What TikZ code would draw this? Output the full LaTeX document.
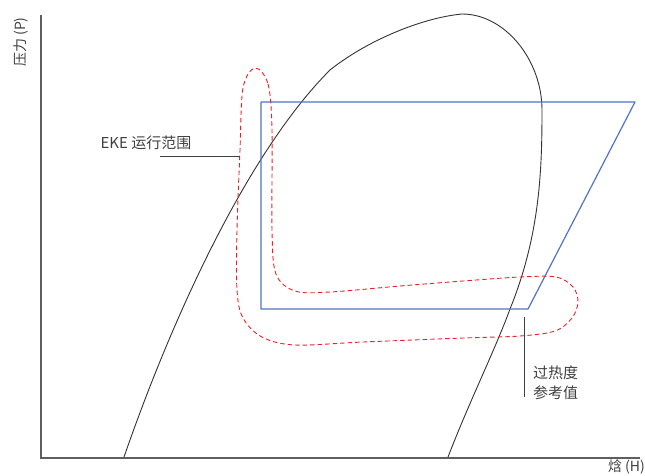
\documentclass[tikz,border=0pt]{standalone}
\usepackage{fontspec}
\setmainfont{Noto Sans CJK SC}
\usepackage{xcolor}
\usetikzlibrary{calc, positioning}
\definecolor{axisgray}{RGB}{95,95,95}
\definecolor{textgray}{RGB}{64,64,64}
\definecolor{cycleblue}{RGB}{80,115,195}
\definecolor{rangered}{RGB}{240,30,40}

\begin{document}
\begin{tikzpicture}[x=1pt, y=-1pt,
    lbl/.style={text=textgray, font=\fontsize{15}{20}\selectfont, inner sep=0pt},
    pointer/.style={draw=textgray, line width=0.9pt}]
            \useasboundingbox (0,0) rectangle (645,475);

            % axes
            \coordinate (origin) at (41,458);
            \coordinate (ytop) at (41,15);
            \coordinate (xend) at (640,458);
            \draw[axisgray, line width=1.1pt] (ytop) -- (origin) -- (xend);
            \node[lbl, rotate=90, font=\fontsize{14}{16}\selectfont] (ylabel) at (21,42) {压力 (P)};
            \node[lbl, font=\fontsize{14}{16}\selectfont, anchor=east] (xlabel) at (645,467) {焓 (H)};

            % saturation dome
            \draw[black!80, line width=0.9pt] (124,457)
                .. controls (175,310) and (250,150) .. (330,70)
                .. controls (365,42) and (420,18) .. (462,14)
                .. controls (505,14) and (542,60) .. (542,110)
                .. controls (542,170) and (540,235) .. (510,309)
                .. controls (495,350) and (470,400) .. (448,457);

            % refrigeration cycle
            \coordinate (c1) at (261,102);
            \coordinate (c2) at (635,102);
            \coordinate (c3) at (528,309);
            \coordinate (c4) at (261,309);
            \draw[cycleblue, line width=1.2pt, line join=round] (c1) -- (c2) -- (c3) -- (c4) -- cycle;

            % operating range of the EKE
            \draw[rangered, line width=0.9pt, dash pattern=on 4.5pt off 3pt] plot[smooth cycle, tension=0.55] coordinates {
                (255,68) (268,84) (272,130) (272,230) (276,274) (295,291) (330,292)
                (400,286) (463,281) (520,277) (556,277) (573,287) (578,302)
                (572,318) (555,331) (520,336) (463,338) (363,342) (295,345)
                (262,337) (243,318) (237,290) (237,230) (240,150) (243,88)};

            % labels and pointers
            \node[lbl] (ekelabel) at (146,143) {EKE 运行范围};
            \coordinate (ekefrom) at (160,156);
            \coordinate (eketo) at (240,156);
            \draw[pointer] (ekefrom) -- (eketo);

            \coordinate (shtop) at (524,317);
            \coordinate (shbottom) at (524,397);
            \draw[pointer] (shtop) -- (shbottom);
            \node[lbl, align=left, anchor=west] (shlabel) at (533,383) {过热度\\参考值};
        \end{tikzpicture}
\end{document}
